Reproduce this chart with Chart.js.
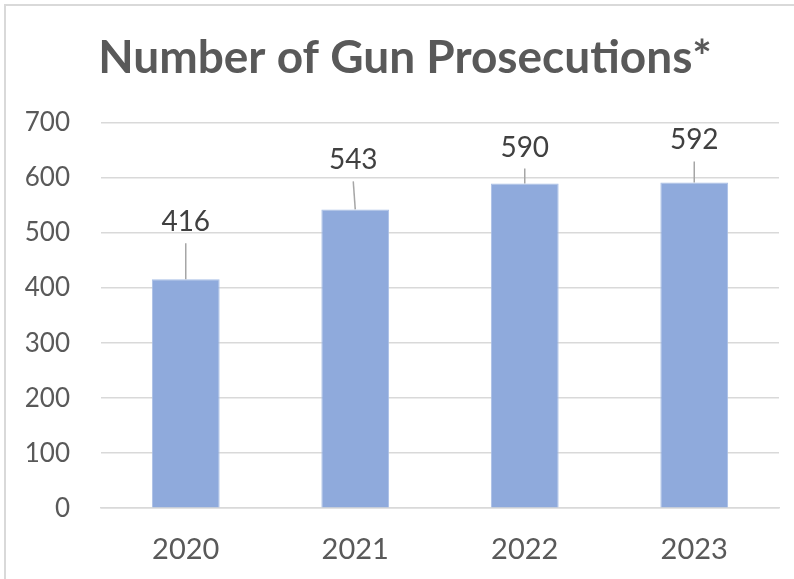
<!DOCTYPE html>
<html>
<head>
<meta charset="utf-8">
<script src="https://cdn.jsdelivr.net/npm/chart.js@4/dist/chart.umd.min.js"></script>
<style>
  html, body { margin: 0; padding: 0; background: #fff; }
  #wrap { position: relative; width: 794px; height: 579px; overflow: hidden; }
  #frame { position: absolute; left: 4px; top: 4px; width: 800px; height: 600px; border: 2px solid #D9D9D9; box-sizing: border-box; }
  canvas { position: absolute; left: 0; top: 0; }
</style>
</head>
<body>
<div id="wrap">
  <div id="frame"></div>
  <canvas id="c" width="794" height="579"></canvas>
</div>
<script>
const titleText = 'Number of Gun Prosecutions*';
const categories = ['2020', '2021', '2022', '2023'];
const prosecutions = [416, 543, 590, 592];
const yTicks = [0, 100, 200, 300, 400, 500, 600, 700];

// label placement (style): pixels above bar top for each label centre
const labelLift = [57, 49, 36, 42];
const labelShiftX = [0, -2, 0, 0];

const FONT = 'Lato, "Open Sans", sans-serif';

const titlePlugin = {
  id: 'centeredTitle',
  afterDraw(chart) {
    const ctx = chart.ctx;
    ctx.save();
    ctx.fillStyle = '#595959';
    ctx.font = 'bold 46px ' + FONT;
    ctx.textAlign = 'center';
    ctx.textBaseline = 'middle';
    ctx.fillText(titleText, 405, 58);
    ctx.restore();
  }
};

const dataLabels = {
  id: 'dataLabels',
  afterDatasetsDraw(chart) {
    const ctx = chart.ctx;
    const meta = chart.getDatasetMeta(0);
    ctx.save();
    meta.data.forEach((bar, i) => {
      const x = bar.x;
      const top = bar.y;
      const ly = top - labelLift[i];
      const lx = x + labelShiftX[i];
      ctx.strokeStyle = '#A6A6A6';
      ctx.lineWidth = 1.5;
      ctx.beginPath();
      ctx.moveTo(lx, ly + 21);
      ctx.lineTo(x, top);
      ctx.stroke();
      ctx.fillStyle = '#404040';
      ctx.font = '28px ' + FONT;
      ctx.textAlign = 'center';
      ctx.textBaseline = 'middle';
      ctx.fillText(String(prosecutions[i]), lx, ly);
    });
    ctx.restore();
  }
};

new Chart(document.getElementById('c'), {
  type: 'bar',
  data: {
    labels: categories,
    datasets: [{
      data: prosecutions,
      backgroundColor: '#8FAADC',
      borderColor: '#A9BFE6',
      borderWidth: 1,
      barPercentage: 0.4,
      categoryPercentage: 1.0
    }]
  },
  options: {
    responsive: false,
    animation: false,
    devicePixelRatio: 1,
    layout: { padding: { left: 0, right: 15, top: 123, bottom: -12 } },
    plugins: {
      legend: { display: false },
      tooltip: { enabled: false },
      title: { display: false }
    },
    scales: {
      y: {
        min: 0,
        max: 700,
        afterBuildTicks(scale) { scale.ticks = yTicks.map(v => ({ value: v })); },
        afterFit(scale) { scale.width = 101; },
        border: { display: false },
        grid: { color: '#D9D9D9', lineWidth: 1.5, drawTicks: false },
        ticks: { color: '#595959', padding: 31, font: { family: FONT, size: 26 } }
      },
      x: {
        border: { color: '#D9D9D9', width: 1.5 },
        grid: { display: false, drawTicks: false },
        ticks: { color: '#595959', padding: 24, font: { family: FONT, size: 29 } }
      }
    }
  },
  plugins: [dataLabels, titlePlugin]
});
</script>
</body>
</html>
